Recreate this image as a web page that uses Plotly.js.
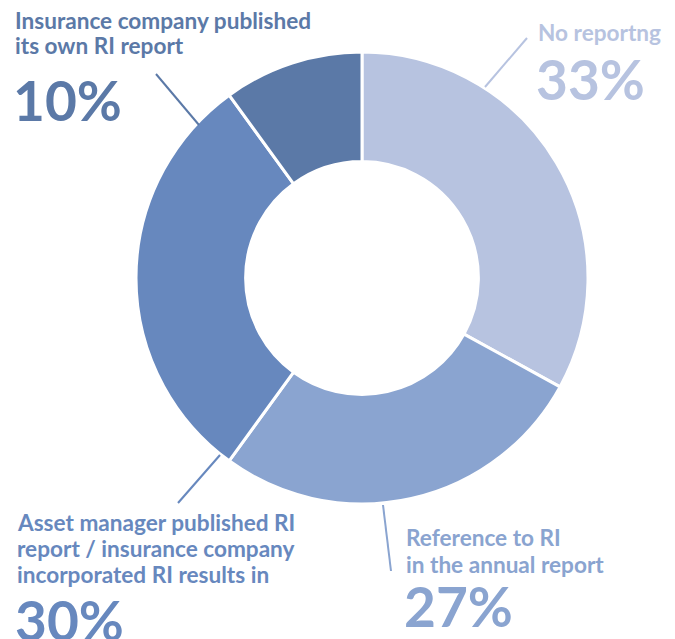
<!DOCTYPE html>
<html>
<head>
<meta charset="utf-8">
<script src="https://cdn.plot.ly/plotly-3.0.1.min.js"></script>
<style>html,body{margin:0;padding:0;background:#fff;}#chart{width:675px;height:639px;}</style>
</head>
<body>
<div id="chart"></div>
<script>
// ---- data ----
const categories = [
  "No reportng",
  "Reference to RI in the annual report",
  "Asset manager published RI report / insurance company incorporated RI results in",
  "Insurance company published its own RI report"
];
const values = [33, 27, 30, 10];
const colors = ["#b7c3e0", "#8aa4d0", "#6788be", "#5b79a7"];
const labelLines = [
  ["No reportng"],
  ["Reference to RI", "in the annual report"],
  ["Asset manager published RI", "report / insurance company", "incorporated RI results in"],
  ["Insurance company published", "its own RI report"]
];
const pctText = values.map(v => v + "%");

// ---- layout helpers ----
const W = 675, H = 639;
const px = x => x / W;
const py = y => 1 - y / H;
const FONT = "Lato, 'Open Sans', sans-serif";

// label placement: [x of text left, y centers of lines, y center of pct]
const place = [
  {x: 536, lines: [32], pct: 79},
  {x: 404, lines: [537, 564], pct: 606},
  {x: 15, lines: [522, 548, 574], pct: 620},
  {x: 13, lines: [20, 45], pct: 100}
];
const leaders = [
  [527, 38, 485, 87],
  [383, 505, 391, 571],
  [220, 455, 178, 503],
  [156, 74, 199, 125]
];

const annotations = [];
const shapes = [];
categories.forEach((c, i) => {
  const p = place[i];
  labelLines[i].forEach((t, j) => {
    annotations.push({
      text: t, xref: "paper", yref: "paper", x: px(p.x), y: py(p.lines[j]),
      xanchor: "left", yanchor: "middle", showarrow: false,
      font: {family: FONT, size: 22.6, color: colors[i], weight: 700}
    });
  });
  annotations.push({
    text: pctText[i], xref: "paper", yref: "paper", x: px(p.x - 2), y: py(p.pct),
    xanchor: "left", yanchor: "middle", showarrow: false,
    font: {family: FONT, size: 55, color: colors[i], weight: 700}
  });
  const L = leaders[i];
  shapes.push({
    type: "line", xref: "paper", yref: "paper",
    x0: px(L[0]), y0: py(L[1]), x1: px(L[2]), y1: py(L[3]),
    line: {color: colors[i], width: 2}
  });
});

const cx = 362, cy = 278, R = 226;
const trace = {
  type: "pie",
  labels: categories,
  values: values,
  hole: 0.515,
  sort: false,
  direction: "clockwise",
  rotation: 0,
  textinfo: "none",
  hoverinfo: "label+percent",
  marker: {colors: colors, line: {color: "#ffffff", width: 3}},
  domain: {x: [px(cx - R), px(cx + R)], y: [py(cy + R), py(cy - R)]}
};

const layout = {
  width: W, height: H,
  margin: {l: 0, r: 0, t: 0, b: 0},
  showlegend: false,
  paper_bgcolor: "#ffffff",
  annotations: annotations,
  shapes: shapes
};

Plotly.newPlot("chart", [trace], layout, {displayModeBar: false, staticPlot: true});
</script>
</body>
</html>
